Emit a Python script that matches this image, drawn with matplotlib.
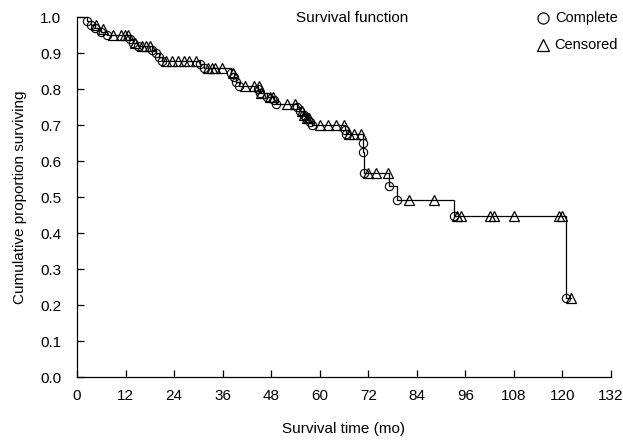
import matplotlib
matplotlib.use("Agg")
import matplotlib.pyplot as plt
import numpy as np

plt.rcParams['font.family'] = ['Liberation Sans', 'DejaVu Sans']

# Event (complete) times and survival after each event
event_times = [2.5, 3.5, 4.5, 6.0, 7.5, 13.0, 13.8, 15.0, 18.5, 19.5, 20.2, 21.0,
               30.5, 31.3, 38.0, 38.8, 39.2, 40.0, 44.8, 45.2, 47.0, 48.8, 49.2,
               54.5, 55.2, 56.0, 56.5, 57.6, 58.0, 66.3, 66.6, 70.6, 70.8, 71.0,
               77.2, 79.1, 93.2, 121.0]
event_surv = [0.99, 0.98, 0.97, 0.96, 0.95, 0.94, 0.93, 0.92, 0.91, 0.90, 0.89, 0.88,
              0.87, 0.86, 0.845, 0.833, 0.821, 0.81, 0.80, 0.79, 0.78, 0.77, 0.76,
              0.75, 0.74, 0.73, 0.72, 0.71, 0.70, 0.688, 0.676, 0.652, 0.627, 0.567,
              0.531, 0.494, 0.448, 0.221]

# Censored times and survival level at censoring
censor_times = [4.8, 6.5, 9.0, 11.0, 11.8, 12.6, 14.3, 16.0, 17.0, 18.0,
                22.0, 23.5, 25.0, 26.5, 27.8, 29.5,
                32.3, 33.3, 34.0, 35.8, 38.5, 41.6, 43.7, 45.1, 45.6, 47.8, 48.4,
                52.0, 54.0, 55.7, 56.2, 56.8, 57.4,
                60.0, 62.0, 64.0, 66.0, 67.2, 68.5, 70.1,
                71.9, 74.0, 77.0, 82.0, 88.2,
                94.0, 95.0, 102.0, 103.0, 108.0, 119.2, 120.0, 122.2]
censor_surv = [0.979, 0.967, 0.95, 0.95, 0.95, 0.95, 0.93, 0.92, 0.92, 0.92,
               0.88, 0.88, 0.88, 0.88, 0.88, 0.88,
               0.86, 0.86, 0.86, 0.86, 0.845, 0.81, 0.81, 0.81, 0.79, 0.78, 0.78,
               0.76, 0.76, 0.74, 0.73, 0.72, 0.72,
               0.70, 0.70, 0.70, 0.70, 0.676, 0.676, 0.676,
               0.567, 0.567, 0.567, 0.494, 0.494,
               0.448, 0.448, 0.448, 0.448, 0.448, 0.448, 0.448, 0.221]

x_ticks = list(range(0, 133, 12))
y_ticks = [round(v * 0.1, 1) for v in range(11)]

FS = 11

fig = plt.figure(figsize=(6.23, 4.44), dpi=100)
ax = fig.add_axes([0.1236, 0.1498, 0.857, 0.8112])

# step curve
sx = [0.0] + event_times + [max(censor_times)]
sy = [1.0] + event_surv + [event_surv[-1]]
ax.step(sx, sy, where='post', color='black', lw=0.9, clip_on=False, zorder=2)

ax.plot(event_times, event_surv, linestyle='none', marker='o', ms=6,
        mfc='none', mec='black', mew=0.8, clip_on=False, zorder=3)
ax.plot(censor_times, censor_surv, linestyle='none', marker='^', ms=6.5,
        mfc='none', mec='black', mew=0.9, clip_on=False, zorder=3)

ax.set_xlim(0, 132)
ax.set_ylim(0, 1.0)
ax.set_xticks(x_ticks)
ax.set_yticks(y_ticks)
ax.set_yticklabels([f"{v:.1f}" for v in y_ticks])
ax.tick_params(direction='in', length=5, width=0.9, labelsize=FS)
ax.tick_params(axis='y', pad=11.5)
ax.tick_params(axis='x', pad=8)
ax.spines['top'].set_visible(False)
ax.spines['right'].set_visible(False)
for s in ('left', 'bottom'):
    ax.spines[s].set_linewidth(0.9)

ax.set_xlabel("Survival time (mo)", fontsize=FS, labelpad=14)
ax.set_ylabel("Cumulative proportion surviving", fontsize=FS, labelpad=9)

ax.text(0.515, 0.997, "Survival function", transform=ax.transAxes,
        ha='center', va='center', fontsize=FS)

# legend
LFS = 10.5
ax.plot([0.872], [0.997], transform=ax.transAxes, marker='o', ms=8,
        mfc='none', mec='black', mew=0.9, clip_on=False)
ax.text(1.013, 0.997, "Complete", transform=ax.transAxes, ha='right',
        va='center', fontsize=LFS)
ax.plot([0.872], [0.922], transform=ax.transAxes, marker='^', ms=8.5,
        mfc='none', mec='black', mew=0.9, clip_on=False)
ax.text(1.013, 0.922, "Censored", transform=ax.transAxes, ha='right',
        va='center', fontsize=LFS)

fig.savefig("out.png", dpi=100)
